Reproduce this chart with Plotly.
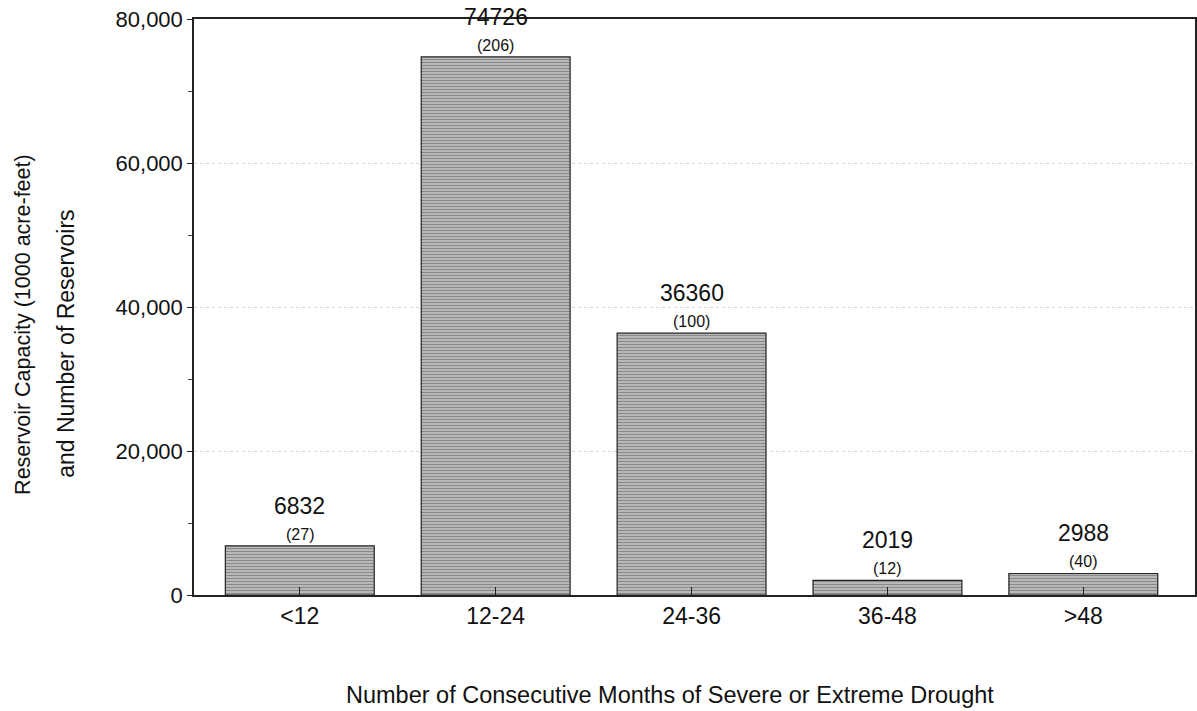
import plotly.graph_objects as go

# dados
categorias = ['<12', '12-24', '24-36', '36-48', '>48']
capacidade = [6832, 74726, 36360, 2019, 2988]
reservatorios = [27, 206, 100, 12, 40]
ticks_y = [0, 20000, 40000, 60000, 80000]

pos = list(range(len(categorias)))
fonte = 'Liberation Sans, Arial, sans-serif'

fig = go.Figure()
fig.add_trace(go.Bar(
    x=pos, y=capacidade, width=0.76,
    marker=dict(color='#aaaaaa',
                line=dict(color='#222', width=1.2),
                pattern=dict(shape='-', fgcolor='#555555', bgcolor='#bdbdbd',
                             size=3, solidity=0.4)),
    showlegend=False, hoverinfo='skip'))

# rotulos acima das barras
for xi, v, n in zip(pos, capacidade, reservatorios):
    fig.add_annotation(x=xi, y=v, text=str(v), showarrow=False,
                       yanchor='bottom', yshift=25,
                       font=dict(size=23, color='#111', family=fonte))
    fig.add_annotation(x=xi, y=v, text='(%d)' % n, showarrow=False,
                       yanchor='bottom', yshift=1,
                       font=dict(size=16, color='#111', family=fonte))

# titulo do eixo y em duas linhas
fig.add_annotation(xref='paper', yref='paper', x=-0.1708, y=0.469,
                   xanchor='center', yanchor='middle', textangle=-90,
                   text='Reservoir Capacity (1000 acre-feet)', showarrow=False,
                   font=dict(size=21.5, color='#111', family=fonte))
fig.add_annotation(xref='paper', yref='paper', x=-0.1279, y=0.436,
                   xanchor='center', yanchor='middle', textangle=-90,
                   text='and Number of Reservoirs', showarrow=False,
                   font=dict(size=23, color='#111', family=fonte))
fig.add_annotation(xref='paper', yref='paper', x=0.4755, y=-0.1736,
                   xanchor='center', yanchor='middle',
                   text='Number of Consecutive Months of Severe or Extreme Drought',
                   showarrow=False,
                   font=dict(size=23.5, color='#111', family=fonte))

fig.update_xaxes(range=[-0.54, 4.57], tickvals=pos, ticktext=categorias,
                 ticks='inside', ticklen=8, tickcolor='#222',
                 showline=True, linecolor='#222', linewidth=1.5, mirror=True,
                 showgrid=False, zeroline=False, automargin=False,
                 tickfont=dict(size=23, color='#111', family=fonte))
fig.update_yaxes(range=[0, 80000], tickvals=ticks_y, tickformat=',',
                 ticks='outside', ticklen=5, tickcolor='#222',
                 minor=dict(dtick=10000, ticks='outside', ticklen=4, tickcolor='#444',
                            showgrid=False),
                 showline=True, linecolor='#222', linewidth=1.5, mirror=True,
                 showgrid=True, gridcolor='#d4d4d4', griddash='dot', gridwidth=1,
                 zeroline=False, automargin=False,
                 tickfont=dict(size=22, color='#111', family=fonte))

fig.update_layout(width=1197, height=711,
                  margin=dict(l=194, r=2, t=19, b=116, autoexpand=False),
                  plot_bgcolor='white', paper_bgcolor='white',
                  bargap=0.2)

# tira a margem padrao do body e a barra de ferramentas
fig.write_html('out.html', config={'displayModeBar': False},
               post_script="document.body.style.margin='0';")
